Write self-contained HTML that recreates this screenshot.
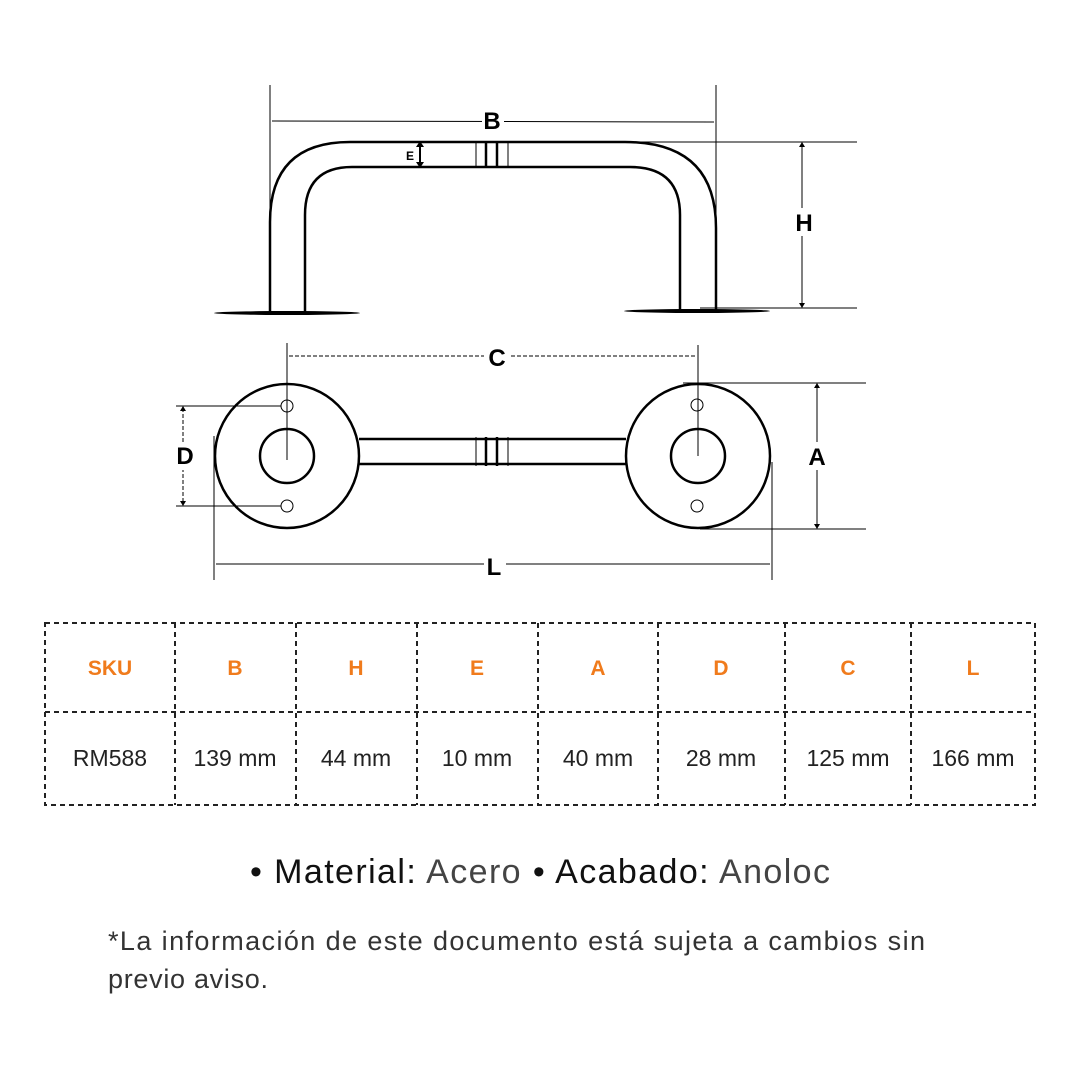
<!DOCTYPE html>
<html><head><style>
body{margin:0;width:1080px;height:1080px;background:#fff;overflow:hidden;font-family:"Liberation Sans",sans-serif}
svg{position:absolute;left:0;top:0}
</style></head><body>
<svg width="1080" height="1080" viewBox="0 0 1080 1080">
<g fill="none" stroke="#000">
<path d="M270 313 V222 Q270 142 350 142 H625 Q716 142 716 228 V310" stroke-width="2.5"/>
<path d="M305 313 V215 Q305 167 352 167 H630 Q680 167 680 215 V310" stroke-width="2.5"/>
<line x1="270" y1="85" x2="270" y2="313" stroke-width="1"/>
<line x1="716" y1="85" x2="716" y2="240" stroke-width="1"/>
<line x1="272" y1="121" x2="714" y2="122" stroke-width="1"/>
<g stroke-width="1"><line x1="476" y1="142" x2="476" y2="167"/><line x1="508" y1="142" x2="508" y2="167"/></g>
<g stroke-width="2.5"><line x1="486" y1="142" x2="486" y2="167"/><line x1="497" y1="142" x2="497" y2="167"/></g>
<line x1="420" y1="145" x2="420" y2="164" stroke-width="2"/>
<line x1="625" y1="142" x2="857" y2="142" stroke-width="1"/>
<line x1="700" y1="308" x2="857" y2="308" stroke-width="1"/>
<line x1="802" y1="144" x2="802" y2="306" stroke-width="1"/>
<circle cx="287" cy="456" r="72" stroke-width="2.5"/>
<circle cx="698" cy="456" r="72" stroke-width="2.5"/>
<circle cx="287" cy="456" r="27" stroke-width="2.5"/>
<circle cx="698" cy="456" r="27" stroke-width="2.5"/>
<circle cx="287" cy="406" r="6" stroke-width="1"/>
<circle cx="287" cy="506" r="6" stroke-width="1"/>
<circle cx="697" cy="405" r="6" stroke-width="1"/>
<circle cx="697" cy="506" r="6" stroke-width="1"/>
<line x1="359" y1="439" x2="626" y2="439" stroke-width="2.5"/>
<line x1="359" y1="464" x2="626" y2="464" stroke-width="2.5"/>
<g stroke-width="1"><line x1="476" y1="437" x2="476" y2="466"/><line x1="508" y1="437" x2="508" y2="466"/></g>
<g stroke-width="2.5"><line x1="486" y1="437" x2="486" y2="466"/><line x1="497" y1="437" x2="497" y2="466"/></g>
<line x1="287" y1="343" x2="287" y2="460" stroke-width="1"/>
<line x1="698" y1="345" x2="698" y2="456" stroke-width="1"/>
<line x1="289" y1="356" x2="696" y2="356" stroke-width="1" stroke-dasharray="4 2"/>
<line x1="176" y1="406" x2="281" y2="406" stroke-width="1"/>
<line x1="176" y1="506" x2="281" y2="506" stroke-width="1"/>
<line x1="183" y1="408" x2="183" y2="504" stroke-width="1" stroke-dasharray="4 2"/>
<line x1="683" y1="383" x2="866" y2="383" stroke-width="1"/>
<line x1="700" y1="529" x2="866" y2="529" stroke-width="1"/>
<line x1="817" y1="385" x2="817" y2="527" stroke-width="1"/>
<line x1="214" y1="436" x2="214" y2="580" stroke-width="1"/>
<line x1="772" y1="462" x2="772" y2="580" stroke-width="1"/>
<line x1="216" y1="564" x2="770" y2="564" stroke-width="1"/>
</g>
<ellipse cx="287" cy="313" rx="73" ry="2" fill="#000"/>
<ellipse cx="697" cy="311" rx="73" ry="2" fill="#000"/>
<g fill="#000">
<path d="M420 141 l-4 6 h8z M420 168 l-4 -6 h8z"/>
<path d="M802 142 l-3 5 h6z M802 308 l-3 -5 h6z"/>
<path d="M817 383 l-3 5 h6z M817 529 l-3 -5 h6z"/>
<path d="M183 406 l-3 5 h6z M183 506 l-3 -5 h6z"/>
</g>
<g font-family="Liberation Sans, sans-serif" font-weight="bold" text-anchor="middle" fill="#000">
<rect x="482" y="108" width="22" height="24" fill="#fff"/>
<text x="492" y="129" font-size="24">B</text>
<text x="410" y="160" font-size="12">E</text>
<rect x="794" y="208" width="18" height="28" fill="#fff"/>
<text x="804" y="231" font-size="24">H</text>
<rect x="484" y="344" width="26" height="24" fill="#fff"/>
<text x="497" y="366" font-size="24">C</text>
<rect x="176" y="442" width="18" height="28" fill="#fff"/>
<text x="185" y="464" font-size="24">D</text>
<rect x="808" y="442" width="18" height="28" fill="#fff"/>
<text x="817" y="465" font-size="24">A</text>
<rect x="484" y="552" width="22" height="24" fill="#fff"/>
<text x="494" y="575" font-size="24">L</text>
</g>
<g stroke="#222" stroke-width="2" stroke-dasharray="5 4" fill="none">
<rect x="45" y="623" width="990" height="182"/>
<line x1="45" y1="712" x2="1035" y2="712"/>
<line x1="175" y1="623" x2="175" y2="805"/><line x1="296" y1="623" x2="296" y2="805"/>
<line x1="417" y1="623" x2="417" y2="805"/><line x1="538" y1="623" x2="538" y2="805"/>
<line x1="658" y1="623" x2="658" y2="805"/><line x1="785" y1="623" x2="785" y2="805"/>
<line x1="911" y1="623" x2="911" y2="805"/>
</g>
<g font-family="Liberation Sans, sans-serif" text-anchor="middle">
<g fill="#f07b1c" font-weight="bold" font-size="21">
<text x="110" y="675">SKU</text><text x="235" y="675">B</text><text x="356" y="675">H</text>
<text x="477" y="675">E</text><text x="598" y="675">A</text><text x="721" y="675">D</text>
<text x="848" y="675">C</text><text x="973" y="675">L</text>
</g>
<g fill="#222" font-size="23">
<text x="110" y="766">RM588</text><text x="235" y="766">139 mm</text><text x="356" y="766">44 mm</text>
<text x="477" y="766">10 mm</text><text x="598" y="766">40 mm</text><text x="721" y="766">28 mm</text>
<text x="848" y="766">125 mm</text><text x="973" y="766">166 mm</text>
</g>
</g>
<text x="250" y="883" font-family="Liberation Sans, sans-serif" font-size="34" fill="#111" textLength="580" lengthAdjust="spacing">• Material: <tspan fill="#444">Acero</tspan> • Acabado: <tspan fill="#444">Anoloc</tspan></text>
<g font-family="Liberation Sans, sans-serif" font-size="27" fill="#333">
<text x="108" y="950" textLength="817" lengthAdjust="spacing">*La información de este documento está sujeta a cambios sin</text>
<text x="108" y="988" textLength="160" lengthAdjust="spacing">previo aviso.</text>
</g>
</svg>
</body></html>
